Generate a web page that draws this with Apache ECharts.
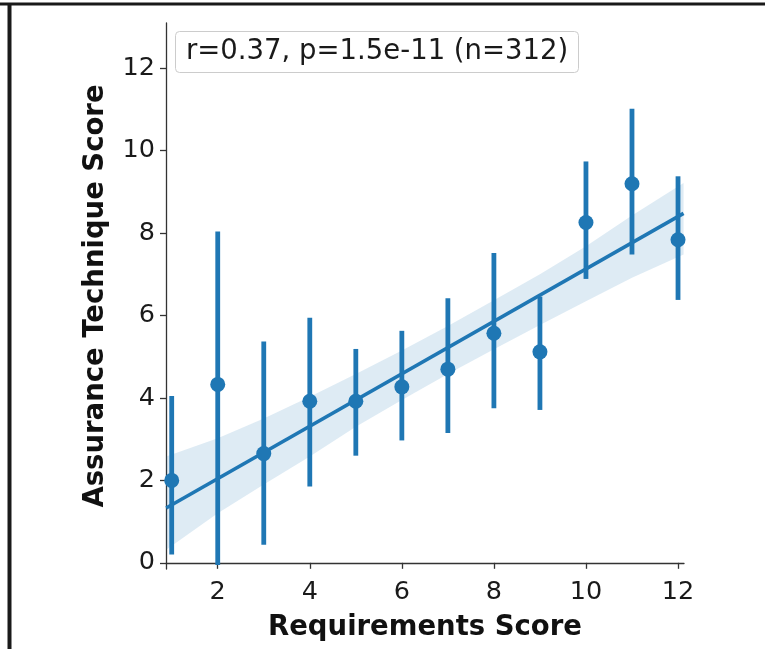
<!DOCTYPE html>
<html>
<head>
<meta charset="utf-8">
<script src="https://cdn.jsdelivr.net/npm/echarts@6/dist/echarts.min.js"></script>
<style>
  html, body { margin: 0; padding: 0; background: #fff; }
  #chart { width: 765px; height: 649px; }
</style>
</head>
<body>
<div id="chart"></div>
<script>
// 各分数的均值与置信区间
const scores = [1, 2, 3, 4, 5, 6, 7, 8, 9, 10, 11, 12];
const means = [2.0, 4.33, 2.65, 3.92, 3.92, 4.27, 4.7, 5.57, 5.12, 8.26, 9.2, 7.84];
const ciLow = [0.2, -0.05, 0.44, 1.85, 2.6, 2.97, 3.15, 3.75, 3.71, 6.89, 7.48, 6.38];
const ciHigh = [4.05, 8.04, 5.37, 5.95, 5.19, 5.63, 6.42, 7.52, 6.46, 9.74, 11.02, 9.38];

// 回归线与置信带
const fitX = [0.88, 12.12];
const fitY = [1.33, 8.48];
const bandX = [0.88, 2, 3, 4, 5, 6, 7, 8, 9, 10, 11, 12.12];
const bandLow = [0.32, 1.2, 1.9, 2.58, 3.3, 3.95, 4.58, 5.18, 5.77, 6.35, 6.92, 7.48];
const bandHigh = [2.58, 3.02, 3.5, 4.03, 4.58, 5.15, 5.75, 6.37, 7.0, 7.68, 8.43, 9.22];

const xTicks = [2, 4, 6, 8, 10, 12];
const yTicks = [0, 2, 4, 6, 8, 10, 12];
const statText = 'r=0.37, p=1.5e-11 (n=312)';

const blue = '#1f77b4';
const font = 'DejaVu Sans';

document.addEventListener('DOMContentLoaded', function () {
    const chart = echarts.init(document.getElementById('chart'));

    const option = {
        animation: false,
        title: {
            text: statText,
            left: 175,
            top: 31,
            padding: [5, 10, 5, 11],
            borderColor: '#cccccc',
            borderWidth: 1,
            borderRadius: 4,
            backgroundColor: '#ffffff',
            textStyle: { fontFamily: font, fontSize: 27.5, fontWeight: 'normal', color: '#1a1a1a', lineHeight: 32 }
        },
        graphic: [
            { type: 'line', shape: { x1: 0, y1: 4, x2: 765, y2: 4 }, style: { stroke: '#1a1a1a', lineWidth: 3 } },
            { type: 'line', shape: { x1: 9.5, y1: 4, x2: 9.5, y2: 649 }, style: { stroke: '#1a1a1a', lineWidth: 4 } }
        ],
        grid: { left: 166, top: 23, width: 518, height: 546 },
        xAxis: {
            type: 'value',
            min: 0.876,
            max: 12.13,
            name: 'Requirements Score',
            nameLocation: 'middle',
            nameGap: 45,
            nameTextStyle: { fontFamily: font, fontSize: 27.5, fontWeight: 'bold', color: '#111' },
            splitLine: { show: false },
            axisLine: { lineStyle: { color: '#333', width: 1.3 } },
            axisTick: { show: true, length: 6, customValues: xTicks, lineStyle: { color: '#333', width: 1.3 } },
            axisLabel: { customValues: xTicks, fontFamily: font, fontSize: 25.5, color: '#1a1a1a', margin: 10 }
        },
        yAxis: {
            type: 'value',
            min: -0.15,
            max: 13.1,
            name: 'Assurance Technique Score',
            nameLocation: 'middle',
            nameGap: 56,
            nameTextStyle: { fontFamily: font, fontSize: 27.5, fontWeight: 'bold', color: '#111' },
            splitLine: { show: false },
            axisLine: { lineStyle: { color: '#333', width: 1.3 } },
            axisTick: { show: true, length: 6, customValues: yTicks, lineStyle: { color: '#333', width: 1.3 } },
            axisLabel: { customValues: yTicks, fontFamily: font, fontSize: 25.5, color: '#1a1a1a', margin: 11 }
        },
        series: [
            {
                // 置信带
                type: 'custom',
                data: [[bandX[0], bandLow[0]]],
                clip: true,
                z: 1,
                renderItem: function (params, api) {
                    const pts = [];
                    for (let i = 0; i < bandX.length; i++) pts.push(api.coord([bandX[i], bandHigh[i]]));
                    for (let i = bandX.length - 1; i >= 0; i--) pts.push(api.coord([bandX[i], bandLow[i]]));
                    return {
                        type: 'polygon',
                        shape: { points: pts },
                        style: { fill: 'rgba(31,119,180,0.15)' }
                    };
                }
            },
            {
                // 误差线
                type: 'custom',
                data: scores.map(function (s, i) { return [s, ciLow[i], ciHigh[i]]; }),
                z: 2,
                renderItem: function (params, api) {
                    const lo = api.coord([api.value(0), api.value(1)]);
                    const hi = api.coord([api.value(0), api.value(2)]);
                    return {
                        type: 'line',
                        shape: { x1: lo[0], y1: lo[1], x2: hi[0], y2: hi[1] },
                        style: { stroke: blue, lineWidth: 4.8 }
                    };
                }
            },
            {
                type: 'line',
                data: fitX.map(function (x, i) { return [x, fitY[i]]; }),
                showSymbol: false,
                z: 3,
                lineStyle: { color: blue, width: 3.6 }
            },
            {
                type: 'scatter',
                data: scores.map(function (s, i) { return [s, means[i]]; }),
                symbolSize: 15,
                z: 4,
                itemStyle: { color: blue, opacity: 1 }
            }
        ]
    };

    chart.setOption(option);
});
</script>
</body>
</html>
